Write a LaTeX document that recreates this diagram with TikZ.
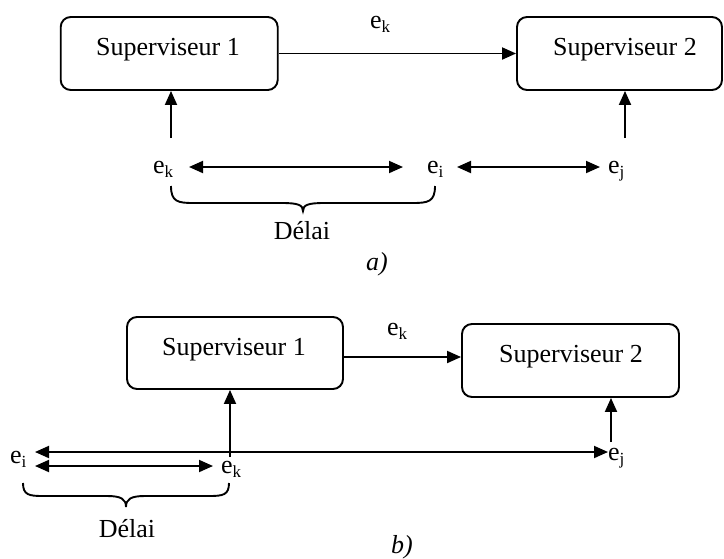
\documentclass[tikz,border=0pt]{standalone}
\usepackage{fontspec}
\setmainfont{Liberation Serif}
\usetikzlibrary{arrows.meta}
\newcommand\esub[1]{e\raisebox{-4pt}{\fontsize{17}{17}\selectfont #1}}
\tikzset{
  boxnode/.style={draw, line width=1.9pt, rounded corners=10pt, inner sep=0pt},
  txt/.style={inner sep=0pt, font=\fontsize{26}{30}\selectfont},
  lbl/.style={txt, anchor=base west},
  arr/.style={line width=1.9pt, -{Triangle[length=14pt,width=12pt]}},
  darr/.style={line width=1.9pt, {Triangle[length=14pt,width=12pt]}-{Triangle[length=14pt,width=12pt]}},
  bracepath/.style={line width=1.9pt},
}
\begin{document}
\begin{tikzpicture}[x=1pt,y=-1pt]
\useasboundingbox (0,0) rectangle (724,558);
% ---------- a) ----------
\node[boxnode, minimum width=217pt, minimum height=73pt] (b1a) at (169.2,53.5) {};
\node[boxnode, minimum width=205pt, minimum height=73pt] (b2a) at (619.5,53.5) {};
\node[txt, anchor=base] (s1a) at (168,55) {Superviseur 1};
\node[txt, anchor=base] (s2a) at (625,55) {Superviseur 2};
\draw[arr] (b1a) -- (b2a);
\node[lbl] (eka) at (370,28) {\esub{k}};
% bottom row
\node[lbl] (ek1) at (153,173) {\esub{k}};
\node[lbl] (ei1) at (427,173) {\esub{i}};
\node[lbl] (ej1) at (608,173) {\esub{j}};
\coordinate (v1a) at (171,138);
\coordinate (v2a) at (625,138);
\draw[arr] (v1a) -- (v1a |- b1a.south);
\draw[arr] (v2a) -- (v2a |- b2a.south);
\coordinate (h1a) at (189,167);
\coordinate (h2a) at (403,167);
\coordinate (h3a) at (457,167);
\coordinate (h4a) at (600,167);
\draw[darr] (h1a) -- (h2a);
\draw[darr] (h3a) -- (h4a);
% brace a
\draw[bracepath] (171,186) .. controls (171,202) and (178,203) .. (194,203)
  -- (282,203) .. controls (298,203) and (303,205) .. (303,211)
  .. controls (303,205) and (308,203) .. (324,203)
  -- (412,203) .. controls (428,203) and (435,202) .. (435,186);
\node[txt, anchor=base] (da) at (302,239) {Délai};
\node[txt, anchor=base] (la) at (377,270) {\textit{a)}};
% ---------- b) ----------
\node[boxnode, minimum width=216pt, minimum height=72pt] (b1b) at (235,353) {};
\node[boxnode, minimum width=217pt, minimum height=73pt] (b2b) at (570.5,360.5) {};
\node[txt, anchor=base] (s1b) at (234,355) {Superviseur 1};
\node[txt, anchor=base] (s2b) at (571,362) {Superviseur 2};
\coordinate (tb) at (0,357);
\draw[arr] (b1b.east |- tb) -- (b2b.west |- tb);
\node[lbl] (ekb) at (387,335) {\esub{k}};
\node[lbl] (eib) at (10,463) {\esub{i}};
\node[lbl] (ek2) at (221,473) {\esub{k}};
\node[lbl] (ejb) at (608,460) {\esub{j}};
\coordinate (v1b) at (230,457);
\coordinate (v2b) at (611,442);
\draw[arr] (v1b) -- (v1b |- b1b.south);
\draw[arr] (v2b) -- (v2b |- b2b.south);
\coordinate (l1b) at (35,452);
\coordinate (l2b) at (608,452);
\coordinate (l3b) at (35,466);
\coordinate (l4b) at (213,466);
\draw[darr] (l1b) -- (l2b);
\draw[darr] (l3b) -- (l4b);
% brace b
\draw[bracepath] (23,483) .. controls (23,495) and (29,496) .. (43,496)
  -- (107,496) .. controls (121,496) and (126,499) .. (126,507)
  .. controls (126,499) and (131,496) .. (145,496)
  -- (209,496) .. controls (223,496) and (229,495) .. (229,483);
\node[txt, anchor=base] (db) at (127,537) {Délai};
\node[txt, anchor=base] (lb) at (402,553) {\textit{b)}};
\end{tikzpicture}
\end{document}
